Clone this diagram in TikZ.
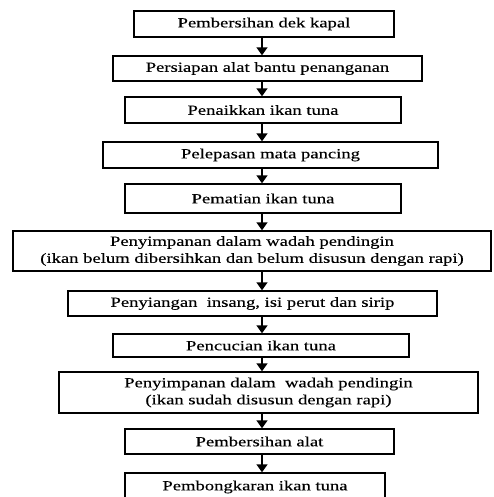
\documentclass[tikz,border=0pt]{standalone}
\usepackage{fontspec}
\setmainfont{Liberation Serif}[FakeStretch=1.33, FakeBold=0.25]
\usetikzlibrary{arrows.meta}

\begin{document}
\begin{tikzpicture}[x=1pt, y=-1pt,
    box/.style = {draw, line width = 1.4pt, inner sep = 0pt, align = center,
                  font = \fontsize{14}{17}\selectfont},
    arr/.style = {line width = 1.6pt, -{Triangle[length=8pt, width=11pt]}}]
      \useasboundingbox (0,0) rectangle (493,497);
      \clip (0,0) rectangle (493,497);
      \coordinate (axis) at (262,0);
      \node [box, minimum width = 260, minimum height = 26] (b1) at (264,24) {Pembersihan dek kapal};
      \node [box, minimum width = 309, minimum height = 25] (b2) at (267.5,68.5) {Persiapan alat bantu penanganan};
      \node [box, minimum width = 276, minimum height = 26] (b3) at (263,110) {Penaikkan ikan tuna};
      \node [box, minimum width = 335, minimum height = 26] (b4) at (270.5,155) {Pelepasan mata pancing};
      \node [box, minimum width = 276, minimum height = 29] (b5) at (263,198.5) {Pematian ikan tuna};
      \node [box, minimum width = 478, minimum height = 40] (b6) at (252,251) {Penyimpanan dalam wadah pendingin\\(ikan belum dibersihkan dan belum disusun dengan rapi)};
      \node [box, minimum width = 369, minimum height = 25] (b7) at (252.5,303.5) {Penyiangan\ \ insang, isi perut dan sirip};
      \node [box, minimum width = 296, minimum height = 23] (b8) at (261,345.5) {Pencucian ikan tuna};
      \node [box, minimum width = 419, minimum height = 41] (b9) at (268.5,392.5) {Penyimpanan dalam\ \ wadah pendingin\\(ikan sudah disusun dengan rapi)};
      \node [box, minimum width = 269, minimum height = 25] (b10) at (259.5,441.5) {Pembersihan alat};
      \node [box, minimum width = 260, minimum height = 28] (b11) at (255,487) {Pembongkaran ikan tuna};
      \foreach \a/\b in {b1/b2, b2/b3, b3/b4, b4/b5, b5/b6, b6/b7, b7/b8, b8/b9, b9/b10, b10/b11}
        \draw [arr] (\a.south -| axis) -- (\b.north -| axis);
\end{tikzpicture}
\end{document}
